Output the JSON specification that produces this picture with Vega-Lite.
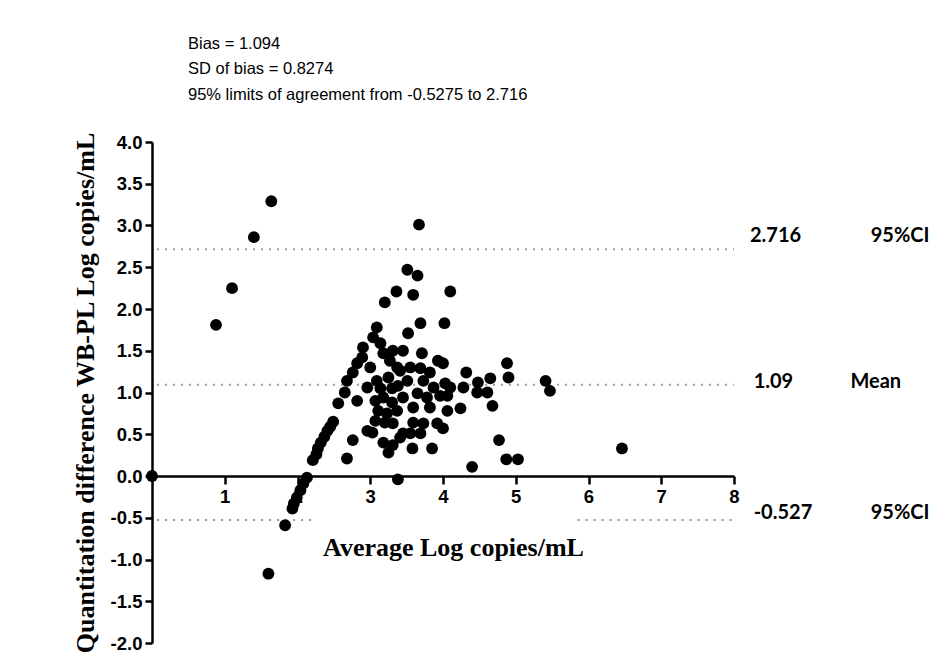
{
 "$schema": "https://vega.github.io/schema/vega-lite/v6.json",
 "width": 582,
 "height": 501,
 "autosize": {"type": "none"},
 "padding": {"left": 152, "top": 142, "right": 211, "bottom": 26},
 "background": "white",
 "config": {"view": {"stroke": null}, "font": "Liberation Sans"},
 "title": {
  "text": ["Bias = 1.094", "SD of bias = 0.8274", "95% limits of agreement from -0.5275 to 2.716"],
  "anchor": "start", "frame": "group", "dx": 36, "offset": 28,
  "fontSize": 16.5, "fontWeight": "normal", "font": "Liberation Sans",
  "lineHeight": 25.5, "color": "black"
 },
 "layer": [
  {
   "data": {"values": [
    {"x": 0.07, "x2": 8, "y": 2.716},
    {"x": 0.07, "x2": 8, "y": 1.094},
    {"x": 0.07, "x2": 2.2, "y": -0.527},
    {"x": 5.85, "x2": 8, "y": -0.527}
   ]},
   "mark": {"type": "rule", "color": "#9a9a9a", "strokeWidth": 2, "strokeDash": [2, 6]},
   "encoding": {
    "x": {"field": "x", "type": "quantitative"},
    "x2": {"field": "x2"},
    "y": {"field": "y", "type": "quantitative"}
   }
  },
  {
   "data": {"values": [
    {"avg": 0, "diff": 0}, {"avg": 0.88, "diff": 1.81}, {"avg": 1.10, "diff": 2.25}, {"avg": 1.40, "diff": 2.86},
    {"avg": 1.64, "diff": 3.29}, {"avg": 1.60, "diff": -1.17}, {"avg": 1.83, "diff": -0.59}, {"avg": 1.93, "diff": -0.39},
    {"avg": 1.95, "diff": -0.33}, {"avg": 1.99, "diff": -0.26}, {"avg": 2.04, "diff": -0.17}, {"avg": 2.08, "diff": -0.09},
    {"avg": 2.13, "diff": -0.02}, {"avg": 2.21, "diff": 0.19}, {"avg": 2.26, "diff": 0.26}, {"avg": 2.28, "diff": 0.33},
    {"avg": 2.32, "diff": 0.40}, {"avg": 2.37, "diff": 0.47}, {"avg": 2.41, "diff": 0.54}, {"avg": 2.45, "diff": 0.59},
    {"avg": 2.49, "diff": 0.65}, {"avg": 2.56, "diff": 0.87}, {"avg": 2.65, "diff": 1.00}, {"avg": 2.68, "diff": 1.14},
    {"avg": 2.76, "diff": 1.24}, {"avg": 2.82, "diff": 1.35}, {"avg": 2.89, "diff": 1.42}, {"avg": 2.90, "diff": 1.54},
    {"avg": 3.04, "diff": 1.66}, {"avg": 3.09, "diff": 1.78}, {"avg": 3.20, "diff": 2.08}, {"avg": 3.36, "diff": 2.21},
    {"avg": 3.59, "diff": 2.17}, {"avg": 3.51, "diff": 2.47}, {"avg": 3.65, "diff": 2.40}, {"avg": 3.67, "diff": 3.01},
    {"avg": 4.10, "diff": 2.21}, {"avg": 3.69, "diff": 1.83}, {"avg": 4.02, "diff": 1.83}, {"avg": 3.52, "diff": 1.71},
    {"avg": 3.45, "diff": 1.50}, {"avg": 3.71, "diff": 1.47}, {"avg": 3.93, "diff": 1.38}, {"avg": 4.00, "diff": 1.35},
    {"avg": 4.32, "diff": 1.24}, {"avg": 4.65, "diff": 1.17}, {"avg": 3.14, "diff": 1.59}, {"avg": 3.18, "diff": 1.47},
    {"avg": 3.27, "diff": 1.38}, {"avg": 3.31, "diff": 1.50}, {"avg": 3.37, "diff": 1.30}, {"avg": 3.25, "diff": 1.18},
    {"avg": 3.38, "diff": 1.08}, {"avg": 3.00, "diff": 1.30}, {"avg": 3.09, "diff": 1.14}, {"avg": 2.96, "diff": 1.06},
    {"avg": 3.55, "diff": 1.30}, {"avg": 3.69, "diff": 1.29}, {"avg": 3.41, "diff": 1.26}, {"avg": 3.51, "diff": 1.14},
    {"avg": 3.73, "diff": 1.14}, {"avg": 3.87, "diff": 1.06}, {"avg": 4.03, "diff": 1.11}, {"avg": 4.28, "diff": 1.06},
    {"avg": 4.48, "diff": 1.12}, {"avg": 4.88, "diff": 1.35}, {"avg": 4.90, "diff": 1.18}, {"avg": 4.10, "diff": 1.06},
    {"avg": 3.96, "diff": 0.96}, {"avg": 4.06, "diff": 0.96}, {"avg": 4.47, "diff": 1.00}, {"avg": 4.61, "diff": 1.00},
    {"avg": 4.68, "diff": 0.84}, {"avg": 4.06, "diff": 0.78}, {"avg": 4.24, "diff": 0.81}, {"avg": 4.00, "diff": 0.57},
    {"avg": 3.92, "diff": 0.63}, {"avg": 4.77, "diff": 0.43}, {"avg": 4.87, "diff": 0.20}, {"avg": 5.03, "diff": 0.20},
    {"avg": 4.40, "diff": 0.11}, {"avg": 5.41, "diff": 1.14}, {"avg": 5.47, "diff": 1.02}, {"avg": 6.46, "diff": 0.33},
    {"avg": 2.82, "diff": 0.90}, {"avg": 2.76, "diff": 0.43}, {"avg": 2.68, "diff": 0.21}, {"avg": 2.96, "diff": 0.54},
    {"avg": 3.03, "diff": 0.52}, {"avg": 3.18, "diff": 0.40}, {"avg": 3.25, "diff": 0.28}, {"avg": 3.31, "diff": 0.37},
    {"avg": 3.41, "diff": 0.46}, {"avg": 3.07, "diff": 0.90}, {"avg": 3.18, "diff": 0.94}, {"avg": 3.30, "diff": 0.88},
    {"avg": 3.11, "diff": 0.78}, {"avg": 3.23, "diff": 0.75}, {"avg": 3.37, "diff": 0.78}, {"avg": 3.07, "diff": 0.66},
    {"avg": 3.20, "diff": 0.64}, {"avg": 3.31, "diff": 0.63}, {"avg": 3.58, "diff": 0.33}, {"avg": 3.85, "diff": 0.33},
    {"avg": 3.69, "diff": 0.51}, {"avg": 3.55, "diff": 0.51}, {"avg": 3.73, "diff": 0.63}, {"avg": 3.59, "diff": 0.64},
    {"avg": 3.45, "diff": 0.94}, {"avg": 3.65, "diff": 0.99}, {"avg": 3.78, "diff": 0.94}, {"avg": 3.59, "diff": 0.82},
    {"avg": 3.82, "diff": 0.82}, {"avg": 3.45, "diff": 0.51}, {"avg": 3.38, "diff": -0.04}, {"avg": 3.14, "diff": 1.05},
    {"avg": 3.30, "diff": 1.05}, {"avg": 3.82, "diff": 1.24}
   ]},
   "mark": {"type": "point", "filled": true, "shape": "circle", "size": 140, "color": "black", "opacity": 1},
   "encoding": {
    "x": {
     "field": "avg", "type": "quantitative",
     "scale": {"domain": [0, 8], "nice": false, "zero": false},
     "axis": {
      "title": "Average Log copies/mL", "values": [1, 2, 3, 4, 5, 6, 7, 8], "format": "d",
      "offset": -167, "grid": false,
      "domainColor": "black", "domainWidth": 2.5, "tickColor": "black", "tickWidth": 2.5, "tickSize": 8,
      "labelFont": "Liberation Sans", "labelFontWeight": "bold", "labelFontSize": 18.5, "labelColor": "black",
      "labelPadding": 3, "labelFlush": false,
      "titleFont": "Liberation Serif", "titleFontSize": 26, "titleFontWeight": "bold", "titleColor": "black",
      "titleX": 301, "titleY": 71, "titleBaseline": "middle", "titleAlign": "center"
     }
    },
    "y": {
     "field": "diff", "type": "quantitative",
     "scale": {"domain": [-2, 4], "nice": false, "zero": false},
     "axis": {
      "title": "Quantitation difference WB-PL Log copies/mL",
      "values": [-2, -1.5, -1, -0.5, 0, 0.5, 1, 1.5, 2, 2.5, 3, 3.5, 4],
      "labelExpr": "(datum.value < 0 ? '-' : '') + format(abs(datum.value), '.1f')",
      "grid": false,
      "domainColor": "black", "domainWidth": 2.5, "tickColor": "black", "tickWidth": 2.5, "tickSize": 7,
      "labelFont": "Liberation Sans", "labelFontWeight": "bold", "labelFontSize": 18.5, "labelColor": "black",
      "labelPadding": 3, "labelFlush": false,
      "titleFont": "Liberation Serif", "titleFontSize": 26, "titleFontWeight": "bold", "titleColor": "black",
      "titlePadding": 12
     }
    }
   }
  },
  {
   "data": {"values": [
    {"label": "2.716", "x": 8.22, "y": 2.88},
    {"label": "95%CI", "x": 9.88, "y": 2.88},
    {"label": "1.09", "x": 8.27, "y": 1.12},
    {"label": "Mean", "x": 9.6, "y": 1.12},
    {"label": "-0.527", "x": 8.27, "y": -0.44},
    {"label": "95%CI", "x": 9.88, "y": -0.44}
   ]},
   "mark": {"type": "text", "align": "left", "baseline": "middle", "font": "Lato", "fontSize": 20, "fontWeight": "bold", "color": "black"},
   "encoding": {
    "x": {"field": "x", "type": "quantitative"},
    "y": {"field": "y", "type": "quantitative"},
    "text": {"field": "label"}
   }
  }
 ]
}
